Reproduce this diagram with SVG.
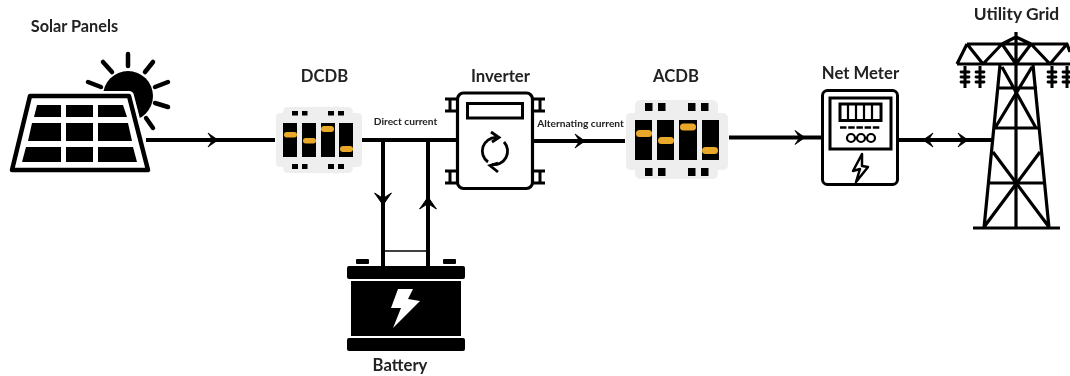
<svg xmlns="http://www.w3.org/2000/svg" width="1070" height="376" viewBox="0 0 1070 376">
<style>
.lbl{font-family:"Lato","Noto Sans",sans-serif;font-size:16.700px;font-weight:700;fill:#222;text-anchor:middle}
.sm{font-family:"Lato","Noto Sans",sans-serif;font-size:10.200px;font-weight:700;fill:#222;text-anchor:middle}
.ln{fill:none;stroke:#000;stroke-width:4}
.thin{fill:none;stroke:#000;stroke-width:3}
.k{fill:#000}
.o{fill:#e9a82c}
.g{fill:#eeeeee}
</style>
<defs>
<filter id="soft" x="-2%" y="-2%" width="104%" height="104%"><feGaussianBlur stdDeviation="0.5"/></filter>
<path id="ah" d="M-10 -7L0 0L-10 7L-5.500 0Z" fill="#000" stroke="#000" stroke-width="0.800" stroke-linejoin="round"/>
</defs>
<g filter="url(#soft)">
<g id="connectors">
<path class="ln" d="M146 140H275M362 140H457M533 141H625M729 137.500H822M899 140H992M383 140V266M428 140V266"/>
<path d="M383 251H428" fill="none" stroke="#000" stroke-width="1.500"/>
<use href="#ah" transform="translate(218,140)"/>
<use href="#ah" transform="translate(585,141)"/>
<use href="#ah" transform="translate(805,137.500)"/>
<use href="#ah" transform="translate(923,140) rotate(180)"/>
<use href="#ah" transform="translate(968,140)"/>
<use href="#ah" transform="translate(383,205) rotate(90) scale(1.200)"/>
<use href="#ah" transform="translate(428,197) rotate(-90) scale(1.200)"/>
</g>
<g id="solar-panels">
<text class="lbl" x="74.500" y="32" style="font-size:16.300px">Solar Panels</text>
<circle class="k" cx="128" cy="96" r="25"/>
<path d="M128 54V66M103 62L112 72M153 62L145 72M88 82L101 87M168 82L155 87M168 107L155 103M153 128L146 118" fill="none" stroke="#000" stroke-width="4.500" stroke-linecap="round"/>
<path d="M30 96H129L148 170H12Z" fill="none" stroke="#fff" stroke-width="10" stroke-linejoin="round"/>
<path d="M30 96H129L148 170H12Z" fill="#fff" stroke="#000" stroke-width="4.500" stroke-linejoin="round"/>
<path class="k" d="M37 105H61V117H34ZM66 105H93V117H66ZM98 105H123L127 117H98ZM32 123H61V141H28ZM66 123H93V141H66ZM98 123H128L132 141H98ZM26 147H61V162H22ZM66 147H93V162H66ZM98 147H133L137 162H98Z"/>
</g>
<g id="dcdb">
<text class="lbl" x="324.500" y="82">DCDB</text>
<path class="g" d="M287 107H348Q353 107 353 113H358Q362 113 362 117V163Q362 167 358 167H353Q353 173 348 173H288Q283 173 283 167H280Q276 167 276 163V117Q276 113 280 113H283Q283 107 287 107Z"/>
<path class="k" d="M292 111h6v4.500h-6zM302 111h5.500v4.500h-5.500zM328 111h6v4.500h-6zM338 111h6v4.500h-6zM292 164h6v5h-6zM302 164h5.500v5h-5.500zM328 164h6v5h-6zM338 164h6v5h-6z"/>
<path class="k" d="M283 123h14v34h-14zM302 123h14v34h-14zM321 123h14v34h-14zM339 123h14v34h-14z"/>
<rect class="o" x="284" y="132" width="13" height="5.500" rx="2.700"/><rect class="o" x="303" y="138" width="13" height="5.500" rx="2.700"/><rect class="o" x="321" y="126" width="13" height="6" rx="3"/><rect class="o" x="340" y="146" width="13" height="6" rx="3"/>
</g>
<g id="inverter">
<text class="lbl" x="500.500" y="82">Inverter</text>
<path class="thin" d="M445 99H457M445 111H457M450 99V111M533 99H545M533 111H545M540 99V111M445 171H457M445 183H457M450 171V183M533 171H545M533 183H545M540 171V183"/>
<rect x="457.500" y="93" width="75" height="95.500" rx="6" fill="#fff" stroke="#000" stroke-width="3.200"/>
<rect x="467.500" y="103.500" width="55" height="14.500" fill="none" stroke="#000" stroke-width="3"/>
<path d="M496 137.500A13.500 13.500 0 0 0 488 162M492 164.500A13.500 13.500 0 0 0 504 142" fill="none" stroke="#000" stroke-width="2.800"/>
<path d="M491 132L499 137.500L492 142M498 163L490 165.500L498 172" fill="none" stroke="#000" stroke-width="2.800"/>
</g>
<g id="acdb">
<text class="lbl" x="676" y="82">ACDB</text>
<path class="g" d="M641 100H712Q718 100 718 106V113H722Q728 113 728 118V165Q728 170 722 170H718V173Q718 179 712 179H641Q635 179 635 173V170H631Q626 170 626 165V118Q626 113 631 113H635V106Q635 100 641 100Z"/>
<path class="k" d="M645 103h7.500v8h-7.500zM658 103h7.500v8h-7.500zM688 103h7.500v8h-7.500zM701 103h7.500v8h-7.500zM645 168h7.500v8h-7.500zM658 168h7.500v8h-7.500zM688 168h7.500v8h-7.500zM701 168h7.500v8h-7.500z"/>
<path class="k" d="M635 120h17v40h-17zM657 120h17v40h-17zM679 120h18v40h-18zM702 120h17v40h-17z"/>
<rect class="o" x="636" y="130" width="16" height="7" rx="3.500"/><rect class="o" x="658" y="137" width="16" height="7" rx="3.500"/><rect class="o" x="680" y="123.500" width="16" height="7" rx="3.500"/><rect class="o" x="702" y="147" width="16" height="7" rx="3.500"/>
</g>
<g id="net-meter">
<text class="lbl" x="860.500" y="79">Net Meter</text>
<rect x="822.500" y="90.500" width="75" height="94" rx="5" fill="#fff" stroke="#000" stroke-width="3"/>
<rect x="830" y="98" width="61" height="51" fill="none" stroke="#000" stroke-width="3"/>
<rect x="840" y="104" width="41" height="16.500" fill="none" stroke="#000" stroke-width="3"/>
<path d="M848 104V120M856 104V120M864 104V120M872 104V120" fill="none" stroke="#000" stroke-width="2.200"/>
<path d="M840 127.500H881" fill="none" stroke="#000" stroke-width="2.500" stroke-dasharray="6.500 1.700"/>
<circle cx="851" cy="138" r="4" fill="none" stroke="#000" stroke-width="2.200"/><circle cx="861" cy="138" r="4" fill="none" stroke="#000" stroke-width="2.200"/><circle cx="871" cy="138" r="4" fill="none" stroke="#000" stroke-width="2.200"/>
<path d="M862 154L853 171L860 169L856 182L868 167L862 166Z" fill="none" stroke="#000" stroke-width="2.500" stroke-linejoin="round"/>
</g>
<g id="utility-grid">
<text class="lbl" x="1016.500" y="20" style="font-size:17.400px">Utility Grid</text>
<path d="M1016 32V228M1016 37L1002 44H1031ZM967 44H1067M957 64H1070M967 44L957 64M967 44L983 64L1002 44L1016 64L1031 44L1050 64L1067 44L1070 52" fill="none" stroke="#000" stroke-width="3.200" stroke-linejoin="round"/>
<path d="M1000 65L984 228M1033 65L1049 228M973 228H1060M997 88H1037M993 128H1038M988 183H1045M1002 67L1036 128M1032 67L995 128M993 152L1049 227M1040 152L984 227" fill="none" stroke="#000" stroke-width="3.200"/>
<path d="M965 66V88M980 66V88M1052 66V88M1067 66V88" fill="none" stroke="#000" stroke-width="3"/>
<path d="M961 72h8M961 77h8M961 82h8M976 72h8M976 77h8M976 82h8M1048 72h8M1048 77h8M1048 82h8M1063 72h7M1063 77h7M1063 82h7" fill="none" stroke="#000" stroke-width="2.800" stroke-linecap="round"/>
</g>
<g id="battery">
<text class="lbl" x="400" y="371">Battery</text>
<rect class="k" x="356" y="259" width="13" height="5" rx="1"/><rect class="k" x="443" y="259" width="13" height="5" rx="1"/>
<rect class="k" x="347" y="266" width="118" height="13" rx="2"/>
<rect class="k" x="351" y="281" width="110" height="55"/>
<rect class="k" x="347" y="338" width="118" height="13" rx="2"/>
<path d="M398 289H413L408 299L420 301L393 328L401 308H391Z" fill="#fff"/>
</g>
<g id="current-labels">
<text class="sm" x="405.500" y="125">Direct current</text>
<text class="sm" x="580.500" y="127">Alternating current</text>
</g>
</g>
</svg>
